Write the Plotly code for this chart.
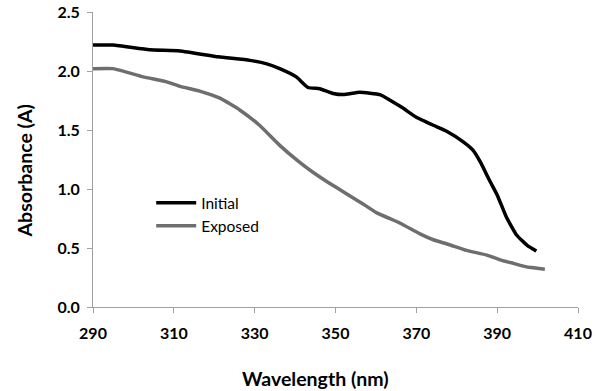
import plotly.graph_objects as go

initial_wl = [290, 295, 304, 311.5, 321, 328.8, 333, 336.2, 340.3, 343.2, 346.1, 349.4, 352, 356, 361, 363.4,
              366.5, 369.9, 374.2, 377.5, 381.6, 384, 386, 388, 390, 392.3, 394.8, 397.5, 399.7]
initial_abs = [2.22, 2.22, 2.18, 2.17, 2.12, 2.09, 2.06, 2.02, 1.95, 1.86, 1.85, 1.81, 1.80, 1.82, 1.80, 1.755,
               1.69, 1.61, 1.54, 1.49, 1.40, 1.33, 1.22, 1.08, 0.95, 0.76, 0.61, 0.52, 0.475]

exposed_wl = [290, 295, 302.4, 308, 311.5, 316.4, 321.4, 326.3, 331.2, 336.2, 341, 344.5, 348, 352.7,
              356.5, 360.1, 366, 370.9, 374.2, 378, 382.4, 387.4, 390.7, 394, 397.3, 399.5, 401.8]
exposed_abs = [2.02, 2.02, 1.95, 1.91, 1.87, 1.83, 1.77, 1.67, 1.54, 1.37, 1.23, 1.14, 1.06, 0.96,
               0.88, 0.80, 0.71, 0.62, 0.57, 0.53, 0.48, 0.44, 0.40, 0.37, 0.34, 0.33, 0.32]

x_ticks = [290, 310, 330, 350, 370, 390, 410]
y_ticks = [0.0, 0.5, 1.0, 1.5, 2.0, 2.5]

x_title = "Wavelength (nm)"
y_title = "Absorbance (A)"

FONT = "Lato"

fig = go.Figure()
fig.add_trace(go.Scatter(x=initial_wl, y=initial_abs, mode="lines", name="Initial",
                         line=dict(color="#000000", width=3.5, shape="spline", smoothing=0.4)))
fig.add_trace(go.Scatter(x=exposed_wl, y=exposed_abs, mode="lines", name="Exposed",
                         line=dict(color="#6e6e6e", width=3.5, shape="spline", smoothing=0.4)))

fig.update_layout(
    width=598, height=391,
    margin=dict(l=93, r=20, t=12, b=84),
    paper_bgcolor="white", plot_bgcolor="white",
    font=dict(family=FONT, color="#000000"),
    showlegend=True,
    legend=dict(x=0.12, y=0.41, xanchor="left", yanchor="top",
                bgcolor="rgba(0,0,0,0)", font=dict(size=15.5, family=FONT),
                tracegroupgap=0, itemwidth=40),
)
fig.update_xaxes(
    range=[290, 410], tickvals=x_ticks, ticktext=[str(v) for v in x_ticks],
    showgrid=False, zeroline=False, showline=True, linecolor="#a0a0a0", linewidth=1,
    ticks="outside", ticklen=5, tickcolor="#a0a0a0", automargin=False,
    ticklabeloverflow="allow",
    tickfont=dict(size=16, family=FONT, weight="bold"), ticklabelstandoff=7,
)
fig.update_yaxes(
    range=[0, 2.5], tickvals=y_ticks, ticktext=[f"{v:.1f}" for v in y_ticks],
    showgrid=False, zeroline=False, showline=True, linecolor="#a0a0a0", linewidth=1,
    ticks="outside", ticklen=5, tickcolor="#a0a0a0", automargin=False,
    ticklabeloverflow="allow",
    tickfont=dict(size=16, family=FONT, weight="bold"), ticklabelstandoff=4,
)
fig.add_annotation(text=x_title, xref="paper", yref="paper", x=0.458, y=-0.244,
                   xanchor="center", yanchor="middle", showarrow=False,
                   font=dict(size=19.5, family=FONT, weight="bold"))
fig.add_annotation(text=y_title, xref="paper", yref="paper", x=-0.142, y=0.46,
                   xanchor="center", yanchor="middle", showarrow=False, textangle=-90,
                   font=dict(size=19.5, family=FONT, weight="bold"))

# remove the page's default 8px body margin so the figure sits at the window origin
fig.write_html("out.html", config={"displayModeBar": False},
               post_script="document.body.style.margin='0px';")
